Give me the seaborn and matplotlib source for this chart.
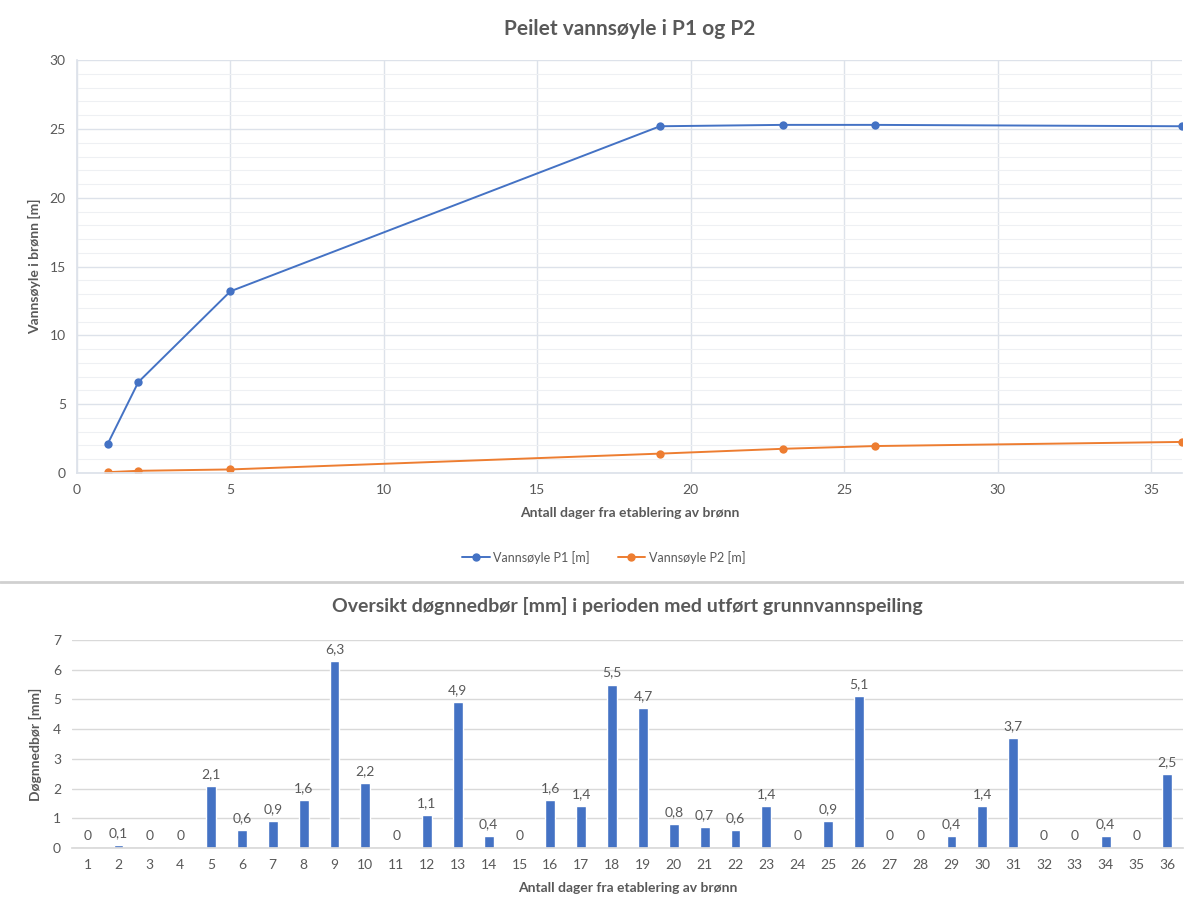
import matplotlib
matplotlib.use("Agg")
import matplotlib.pyplot as plt
import seaborn as sns
import pandas as pd
from matplotlib.lines import Line2D

# Water column measurements (days since well establishment)
days = [1, 2, 5, 19, 23, 26, 36]
p1 = [2.1, 6.6, 13.2, 25.2, 25.3, 25.3, 25.2]
p2 = [0.05, 0.15, 0.25, 1.4, 1.75, 1.95, 2.25]
series_names = ["Vannsøyle P1 [m]", "Vannsøyle P2 [m]"]

# Daily precipitation
rain_days = list(range(1, 37))
rain_mm = [0, 0.1, 0, 0, 2.1, 0.6, 0.9, 1.6, 6.3, 2.2, 0, 1.1, 4.9, 0.4, 0, 1.6, 1.4, 5.5,
           4.7, 0.8, 0.7, 0.6, 1.4, 0, 0.9, 5.1, 0, 0, 0.4, 1.4, 3.7, 0, 0, 0.4, 0, 2.5]

blue = "#4472C4"
orange = "#ED7D31"
text_col = "#595959"
grid_col = "#DDE2EA"

sns.set_theme(style="white")
plt.rcParams["font.family"] = ["Lato", "DejaVu Sans"]
plt.rcParams["text.color"] = text_col
plt.rcParams["axes.labelcolor"] = text_col
plt.rcParams["xtick.color"] = text_col
plt.rcParams["ytick.color"] = text_col

fig = plt.figure(figsize=(11.84, 8.99), dpi=100)

# ---- top chart ----
df = pd.DataFrame({
    "dag": days * 2,
    "verdi": p1 + p2,
    "serie": [series_names[0]] * len(days) + [series_names[1]] * len(days),
})
ax1 = fig.add_axes([0.065, 0.474, 0.933, 0.459])
sns.lineplot(data=df, x="dag", y="verdi", hue="serie", palette=[blue, orange],
             marker="o", markersize=6, markeredgewidth=0, linewidth=1.4, ax=ax1, legend=False)
ax1.set_xlim(0, 36)
ax1.set_ylim(0, 30)
ax1.set_xticks(range(0, 36, 5))
ax1.set_yticks(range(0, 31, 5))
ax1.set_yticks(range(0, 31, 1), minor=True)
ax1.grid(True, which="major", color=grid_col, linewidth=1.0)
ax1.grid(True, which="minor", axis="y", color="#EEF0F3", linewidth=0.8)
for s in ["top", "right"]:
    ax1.spines[s].set_visible(False)
for s in ["left", "bottom"]:
    ax1.spines[s].set_color(grid_col)
ax1.tick_params(axis="both", which="both", length=0, labelsize=10, pad=8)
ax1.set_xlabel("Antall dager fra etablering av brønn", fontsize=10, fontweight="bold", labelpad=8)
ax1.set_ylabel("Vannsøyle i brønn [m]", fontsize=10, fontweight="bold", labelpad=6)
ax1.set_title("Peilet vannsøyle i P1 og P2", fontsize=15, fontweight="bold", color=text_col, pad=18)

handles = [Line2D([0], [0], color=blue, marker="o", markersize=5, linewidth=1.4),
           Line2D([0], [0], color=orange, marker="o", markersize=5, linewidth=1.4)]
fig.legend(handles, series_names, loc="center", bbox_to_anchor=(0.51, 0.38), ncol=2,
           frameon=False, fontsize=9, handlelength=2.2, handletextpad=0.3, columnspacing=2.2)

# separator between the charts
fig.add_artist(Line2D([0, 1], [1 - 582 / 899, 1 - 582 / 899], color="#D0D0D0", linewidth=2,
                      transform=fig.transFigure))

# ---- bottom chart ----
df_rain = pd.DataFrame({"dag": [str(d) for d in rain_days], "mm": rain_mm})
ax2 = fig.add_axes([0.061, 0.0567, 0.938, 0.2314])
sns.barplot(data=df_rain, x="dag", y="mm", color=blue, saturation=1, width=0.32, ax=ax2)
ax2.set_xlim(-0.5, len(rain_days) - 0.5)
ax2.set_ylim(0, 7)
ax2.set_yticks(range(0, 8))
ax2.grid(True, axis="y", color="#D9D9D9", linewidth=1.0)
ax2.set_axisbelow(True)
for s in ["top", "right", "left"]:
    ax2.spines[s].set_visible(False)
ax2.spines["bottom"].set_color("#D9D9D9")
ax2.tick_params(axis="both", length=0, labelsize=10, pad=8)
for i, v in enumerate(rain_mm):
    ax2.text(i, v + 0.2, f"{v:g}".replace(".", ","), ha="center", va="bottom", fontsize=10, color=text_col)
ax2.set_xlabel("Antall dager fra etablering av brønn", fontsize=10, fontweight="bold", labelpad=8)
ax2.set_ylabel("Døgnnedbør [mm]", fontsize=10, fontweight="bold", labelpad=8)
ax2.set_title("Oversikt døgnnedbør [mm] i perioden med utført grunnvannspeiling",
              fontsize=14, fontweight="bold", color=text_col, pad=20)

fig.savefig("out.png", dpi=100)
